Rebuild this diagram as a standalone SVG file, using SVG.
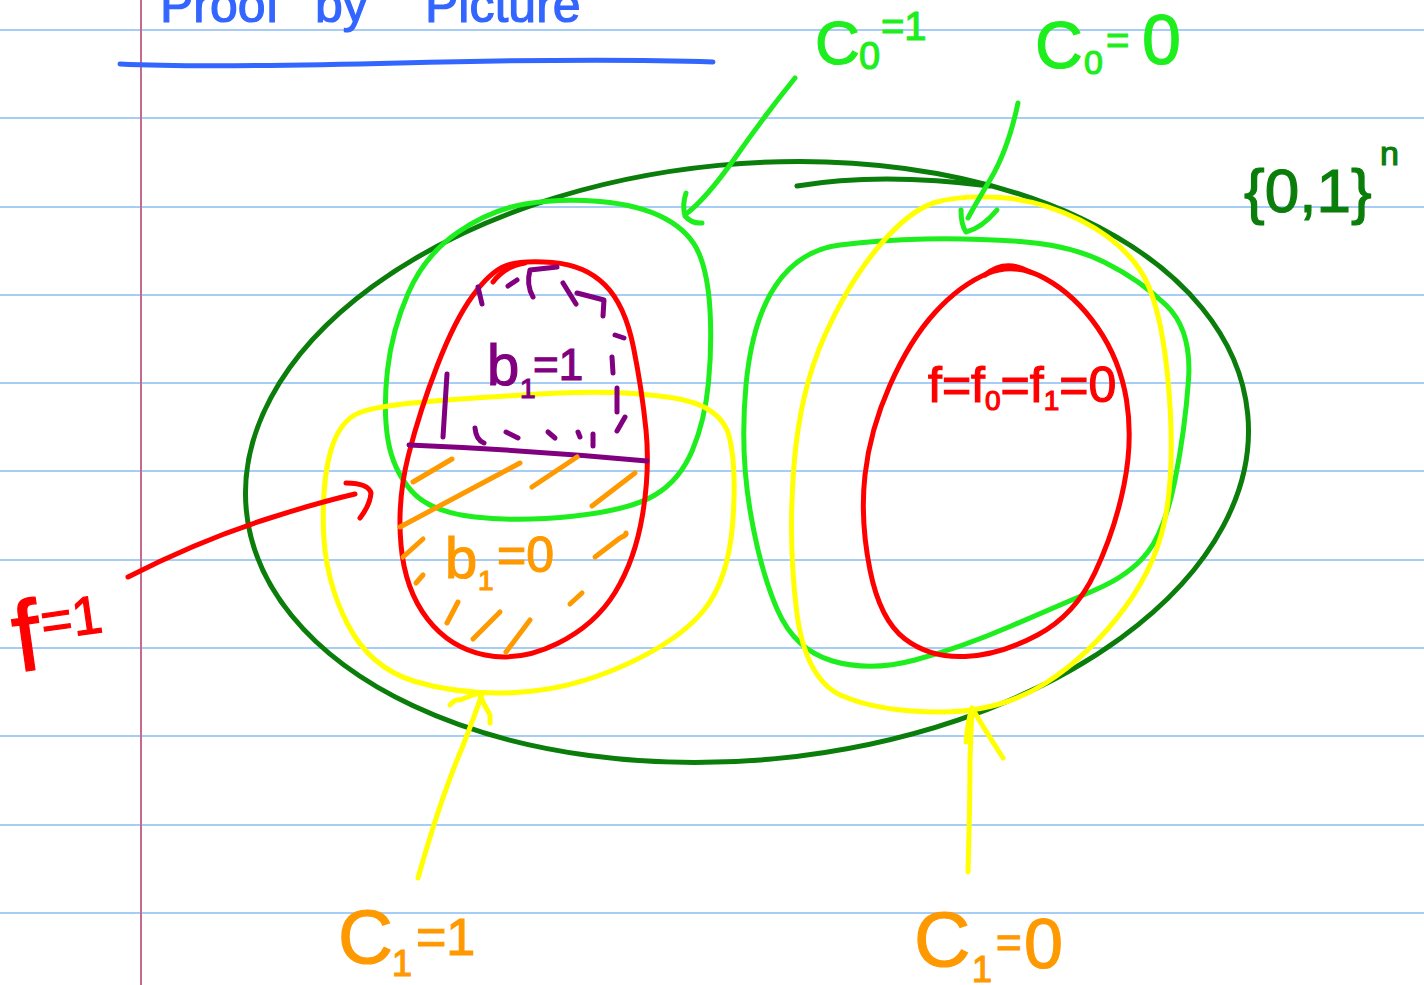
<svg xmlns="http://www.w3.org/2000/svg" width="1424" height="985" viewBox="0 0 1424 985">
<style>
.rule{stroke:#a6cdf5;stroke-width:2}
.ink{fill:none;stroke-linecap:round;stroke-linejoin:round;stroke-width:5}
.dg{stroke:#0a7d0a}
.lg{stroke:#1eee1e}
.ye{stroke:#ffff00}
.rd{stroke:#ff0000}
.pu{stroke:#800080}
.or{stroke:#ff9900}
.bl{stroke:#3366ff}
.t{font-family:"Liberation Sans",Arial,sans-serif;stroke-width:1.2}
</style>
<rect width="1424" height="985" fill="#ffffff"/>
<g id="paper">
<line class="rule" x1="0" y1="30" x2="1424" y2="30"/>
<line class="rule" x1="0" y1="118" x2="1424" y2="118"/>
<line class="rule" x1="0" y1="207" x2="1424" y2="207"/>
<line class="rule" x1="0" y1="295" x2="1424" y2="295"/>
<line class="rule" x1="0" y1="383" x2="1424" y2="383"/>
<line class="rule" x1="0" y1="471" x2="1424" y2="471"/>
<line class="rule" x1="0" y1="560" x2="1424" y2="560"/>
<line class="rule" x1="0" y1="648" x2="1424" y2="648"/>
<line class="rule" x1="0" y1="736" x2="1424" y2="736"/>
<line class="rule" x1="0" y1="825" x2="1424" y2="825"/>
<line class="rule" x1="0" y1="913" x2="1424" y2="913"/>
<line x1="141" y1="0" x2="141" y2="985" stroke="#c46a8a" stroke-width="2"/>
</g>
<g id="title">
<text class="t" x="160" y="22" font-size="50" fill="#3366ff" stroke="#3366ff"><tspan x="160">Proof</tspan><tspan x="315">by</tspan><tspan x="425">Picture</tspan></text>
<path class="ink bl" d="M120,64 Q200,68 400,63 Q600,58 713,62" stroke-width="6"/>
</g>
<g id="universe">
<ellipse class="ink dg" cx="747" cy="462" rx="503" ry="298" transform="rotate(-5.5 747 462)"/>
<path class="ink dg" d="M797,186 Q880,172 990,186"/>
<text class="t" font-size="62" fill="#0a7d0a" stroke="#0a7d0a"><tspan x="1244" y="212">{0,1}</tspan><tspan x="1380" y="165" font-size="34">n</tspan></text>
</g>
<g id="c0-one">
<path class="ink lg" d="M525,204 Q560,198 600,201.5 Q640,205 665,218.5 Q690,232 699,253.5 Q708,275 710,310 Q712,345 708.5,382.5 Q705,420 692.5,450 Q680,480 655,495 Q630,510 575,516 Q520,522 475,517 Q430,512 411.5,491 Q393,470 388,440 Q383,410 387.5,370 Q392,330 408.5,292.5 Q425,255 457.5,232.5 Q490,210 525,204 Z"/>
</g>
<g id="c0-zero">
<path class="ink lg" d="M840,245 Q880,240 925,239 Q970,238 1020,241.5 Q1070,245 1105,262.5 Q1140,280 1166,305 Q1192,330 1188.5,380 Q1185,430 1175,480 Q1165,530 1147.5,552.5 Q1130,575 1095,590 Q1060,605 1010,626.5 Q960,648 915,660 Q870,672 832.5,661 Q795,650 777.5,610 Q760,570 750,510 Q740,450 746,385 Q752,320 776,285 Q800,250 840,245 Z"/>
</g>
<g id="c1-one">
<path class="ink ye" d="M440,400.5 Q500,396 560,393 Q620,390 671,397.5 Q722,405 729.5,437.5 Q737,470 732.5,525 Q728,580 704,610 Q680,640 625,665 Q570,690 515,692.5 Q460,695 415,681.5 Q370,668 347.5,624 Q325,580 323.5,530 Q322,480 331,450 Q340,420 360,412.5 Q380,405 440,400.5 Z"/>
</g>
<g id="c1-zero">
<path class="ink ye" d="M1000,197.5 Q1040,200 1080,220 Q1120,240 1140,270 Q1160,300 1167.5,375 Q1175,450 1167.5,505 Q1160,560 1125,607.5 Q1090,655 1045,683.5 Q1000,712 940,712 Q880,712 842.5,696 Q805,680 796.5,610 Q788,540 794,465 Q800,390 825,335 Q850,280 880,245 Q910,210 935,202.5 Q960,195 1000,197.5 Z"/>
</g>
<g id="f-one">
<path class="ink rd" d="M552.5,262.5 Q585,265 605,285 Q625,305 633.5,347.5 Q642,390 646,430 Q650,470 642.5,515 Q635,560 615,592.5 Q595,625 557.5,643.5 Q520,662 485,655 Q450,648 427.5,619 Q405,590 401,545 Q397,500 408.5,455 Q420,410 437.5,365 Q455,320 472.5,296 Q490,272 505,266 Q520,260 552.5,262.5 Z"/>
<path class="ink rd" d="M493,282 Q505,266 525,263"/>
</g>
<g id="b1-one">
<g class="ink pu">
<path d="M478,287 L482,304"/>
<path d="M508,286 L517,280"/>
<path d="M533,297 Q526,285 530,270 L557,267"/>
<path d="M563,283 L576,304"/>
<path d="M577,293 L604,300 L603,316"/>
<path d="M615,335 L624,338"/>
<path d="M612,357 L613,373"/>
<path d="M617,388 L617,412"/>
<path d="M625,417 L617,431"/>
<path d="M475,428 Q476,440 484,443"/>
<path d="M506,432 L518,438"/>
<path d="M548,432 L555,438"/>
<path d="M578,432 L580,437"/>
<path d="M593,434 L593,446"/>
<path d="M447,374 L443,437"/>
<path d="M409,445 Q530,450 647,461"/>
</g>
<text class="t" font-size="58" fill="#800080" stroke="#800080"><tspan x="487" y="385">b</tspan><tspan x="520" y="398" font-size="28">1</tspan><tspan x="533" y="380" font-size="44">=1</tspan></text>
</g>
<g id="b1-zero">
<g class="ink or">
<path d="M413,482 L452,459"/>
<path d="M400,527 L520,463"/>
<path d="M532,487 L577,457"/>
<path d="M592,506 L635,473"/>
<path d="M403,557 L423,539"/>
<path d="M416,583 L423,575"/>
<path d="M595,557 L620,538 Q627,535 626,533"/>
<path d="M570,604 L582,593"/>
<path d="M447,623 L458,602"/>
<path d="M473,639 L500,612"/>
<path d="M506,652 L530,620"/>
</g>
<text class="t" font-size="58" fill="#ff9900" stroke="#ff9900"><tspan x="445" y="578">b</tspan><tspan x="478" y="590" font-size="28">1</tspan><tspan x="497" y="572" font-size="50">=0</tspan></text>
</g>
<g id="f-zero">
<path class="ink rd" d="M1045,278.5 Q1075,295 1097.5,327.5 Q1120,360 1126.5,400 Q1133,440 1124,485 Q1115,530 1095,572.5 Q1075,615 1037.5,635 Q1000,655 965,656.5 Q930,658 905,639 Q880,620 870,570 Q860,520 865,475 Q870,430 890,385 Q910,340 935,312.5 Q960,285 987.5,273.5 Q1015,262 1045,278.5 Z"/>
<path class="ink rd" d="M985,275 Q1005,258 1030,272"/>
<text class="t" font-size="50" fill="#ff0000" stroke="#ff0000" x="928" y="402">f=f<tspan font-size="28" dy="8">0</tspan><tspan dy="-8">=f</tspan><tspan font-size="28" dy="8">1</tspan><tspan dy="-8">=0</tspan></text>
</g>
<g id="labels">
<text class="t" font-size="62" fill="#1eee1e" stroke="#1eee1e"><tspan x="815" y="64">C</tspan><tspan x="859" y="69" font-size="38">0</tspan><tspan x="881" y="40" font-size="40">=1</tspan></text>
<text class="t" font-size="66" fill="#1eee1e" stroke="#1eee1e"><tspan x="1035" y="68">C</tspan><tspan x="1084" y="74" font-size="34">0</tspan><tspan x="1106" y="54" font-size="40">=</tspan><tspan x="1142" y="64" font-size="70">0</tspan></text>
<text class="t" fill="#ff0000" stroke="#ff0000" transform="rotate(-8 60 630)"><tspan x="12" y="666" font-size="100">f</tspan><tspan x="42" y="638" font-size="54">=1</tspan></text>
<text class="t" font-size="76" fill="#ff9900" stroke="#ff9900"><tspan x="338" y="963">C</tspan><tspan x="392" y="976" font-size="36">1</tspan><tspan x="416" y="955" font-size="52">=1</tspan></text>
<text class="t" font-size="78" fill="#ff9900" stroke="#ff9900"><tspan x="914" y="966">C</tspan><tspan x="972" y="982" font-size="36">1</tspan><tspan x="996" y="958" font-size="44">=</tspan><tspan x="1024" y="968" font-size="70">0</tspan></text>
</g>
<g id="connectors">
<path class="ink lg" d="M795,78 Q765,115 735,158 Q705,200 686,214"/>
<path class="ink lg" d="M686,193 Q682,205 685,216 Q692,224 702,223"/>
<path class="ink lg" d="M1018,103 Q1008,150 990,180 Q975,205 968,218"/>
<path class="ink lg" d="M961,210 Q961,225 966,232 Q982,228 997,210"/>
<path class="ink rd" d="M128,577 Q200,540 270,518 Q320,502 355,494"/>
<path class="ink rd" d="M346,483 Q368,483 371,493 Q370,505 360,518"/>
<path class="ink ye" d="M418,878 Q440,800 462,748 Q475,715 482,694"/>
<path class="ink ye" d="M450,705 Q455,699 460,700 Q470,696 479,693 Q484,705 490,715 L490,723"/>
<path class="ink ye" d="M968,872 Q970,800 970,760 Q971,730 972,708"/>
<path class="ink ye" d="M966,742 Q968,720 972,708 Q985,730 1003,758"/>
</g>
</svg>
